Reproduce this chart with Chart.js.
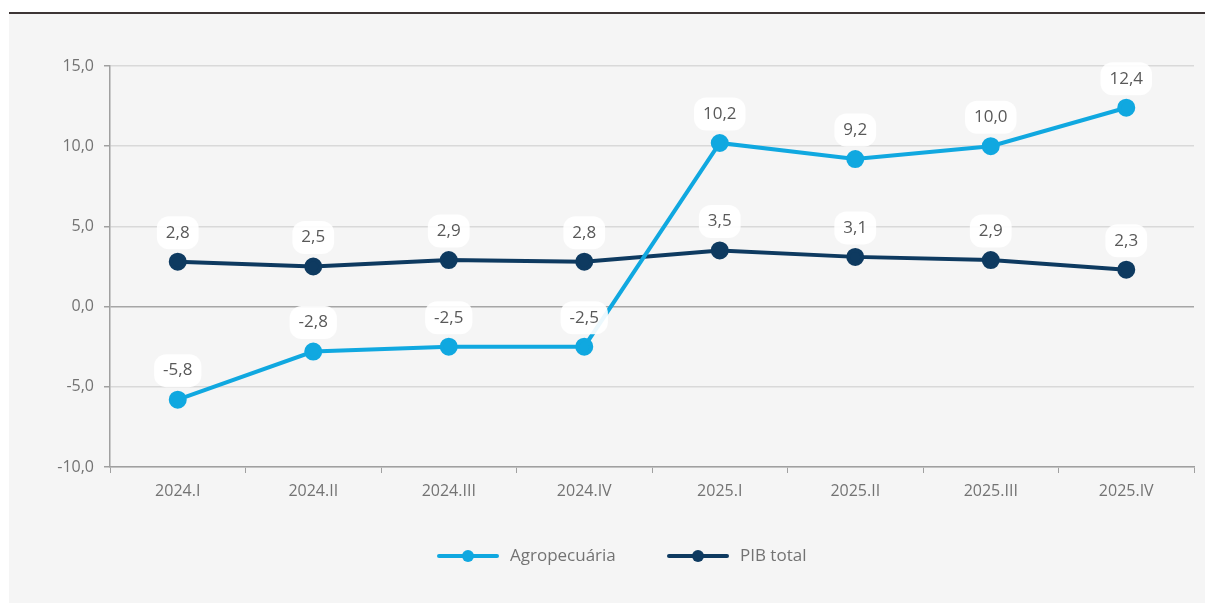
<!DOCTYPE html>
<html>
<head>
<meta charset="utf-8">
<script src="https://cdn.jsdelivr.net/npm/chart.js@4.4.1/dist/chart.umd.min.js"></script>
<style>
  html, body { margin: 0; padding: 0; background: #fff; }
  #wrap { width: 1205px; height: 603px; position: relative; }
</style>
</head>
<body>
<div id="wrap"><canvas id="pibChart" width="1205" height="603"></canvas></div>
<script>
// dados
const quarters = ['2024.I', '2024.II', '2024.III', '2024.IV', '2025.I', '2025.II', '2025.III', '2025.IV'];
const agro = [-5.8, -2.8, -2.5, -2.5, 10.2, 9.2, 10.0, 12.4];
const pibTotal = [2.8, 2.5, 2.9, 2.8, 3.5, 3.1, 2.9, 2.3];
const yTicks = [-10, -5, 0, 5, 10, 15];

const FONT = "'Open Sans', 'Liberation Sans', sans-serif";
const TXT = '#595959';
const AXIS_TXT = '#737373';

const fmt = v => v.toFixed(1).replace('.', ',');

// fundo cinza com a linha escura no topo
const panelBg = {
  id: 'panelBg',
  beforeDraw(chart) {
    const ctx = chart.ctx;
    ctx.save();
    ctx.fillStyle = '#ffffff';
    ctx.fillRect(0, 0, chart.width, chart.height);
    ctx.fillStyle = '#f5f5f5';
    ctx.fillRect(9, 14, chart.width - 9, chart.height - 14);
    ctx.strokeStyle = '#3d3535';
    ctx.lineWidth = 2;
    ctx.beginPath();
    ctx.moveTo(9, 13);
    ctx.lineTo(chart.width, 13);
    ctx.stroke();
    ctx.restore();
  }
};

// rótulos de dados com caixa branca
const valueLabels = {
  id: 'valueLabels',
  afterDatasetsDraw(chart) {
    const ctx = chart.ctx;
    ctx.save();
    ctx.font = '17px ' + FONT;
    ctx.textAlign = 'center';
    ctx.textBaseline = 'middle';
    chart.data.datasets.forEach((ds, i) => {
      const meta = chart.getDatasetMeta(i);
      meta.data.forEach((pt, j) => {
        const txt = fmt(ds.data[j]);
        const w = ctx.measureText(txt).width + 18;
        const h = 33;
        const cx = pt.x, cy = pt.y - 29;
        ctx.fillStyle = 'rgba(255,255,255,0.92)';
        ctx.beginPath();
        ctx.roundRect(cx - w / 2, cy - h / 2, w, h, 12);
        ctx.fill();
        ctx.fillStyle = TXT;
        ctx.fillText(txt, cx, cy);
      });
    });
    ctx.restore();
  }
};

// legenda com linha e marcador
const lineLegend = {
  id: 'lineLegend',
  afterDraw(chart) {
    const ctx = chart.ctx;
    const y = 556;
    const xs = [439, 669];
    ctx.save();
    ctx.font = '17px ' + FONT;
    ctx.textBaseline = 'middle';
    chart.data.datasets.forEach((ds, i) => {
      const x = xs[i];
      ctx.strokeStyle = ds.borderColor;
      ctx.lineWidth = 4;
      ctx.lineCap = 'round';
      ctx.beginPath();
      ctx.moveTo(x, y);
      ctx.lineTo(x + 58, y);
      ctx.stroke();
      ctx.fillStyle = ds.borderColor;
      ctx.beginPath();
      ctx.arc(x + 29, y, 6, 0, Math.PI * 2);
      ctx.fill();
      ctx.fillStyle = AXIS_TXT;
      ctx.fillText(ds.label, x + 71, y);
    });
    ctx.restore();
  }
};

new Chart(document.getElementById('pibChart').getContext('2d'), {
  type: 'line',
  data: {
    labels: quarters,
    datasets: [
      {
        label: 'Agropecuária',
        data: agro,
        borderColor: '#10a8e0',
        backgroundColor: '#10a8e0',
        borderWidth: 4,
        pointRadius: 7,
        pointHoverRadius: 7,
        tension: 0
      },
      {
        label: 'PIB total',
        data: pibTotal,
        borderColor: '#0e3a60',
        backgroundColor: '#0e3a60',
        borderWidth: 4,
        pointRadius: 7,
        pointHoverRadius: 7,
        tension: 0
      }
    ]
  },
  options: {
    responsive: false,
    animation: false,
    layout: { padding: { left: 10, top: 66, right: -5, bottom: 106 } },
    plugins: {
      legend: { display: false },
      tooltip: { enabled: false }
    },
    scales: {
      x: {
        offset: true,
        afterFit: s => { s.height = 30; },
        grid: {
          offset: true,
          drawOnChartArea: false,
          color: '#a0a0a0',
          tickColor: '#a0a0a0',
          tickLength: 6
        },
        border: { color: '#a0a0a0', width: 1.5 },
        ticks: { color: AXIS_TXT, font: { family: FONT, size: 16 }, padding: 9, maxRotation: 0 }
      },
      y: {
        min: -10,
        max: 15,
        afterFit: s => { s.width = 100; },
        afterBuildTicks: s => { s.ticks = yTicks.map(v => ({ value: v })); },
        grid: {
          color: c => c.tick && c.tick.value === 0 ? '#a6a6a6' : '#d9d9d9',
          lineWidth: 1.5,
          tickColor: '#a0a0a0',
          tickLength: 6
        },
        border: { color: '#a0a0a0', width: 1.5 },
        ticks: {
          color: AXIS_TXT,
          font: { family: FONT, size: 16 },
          padding: 10,
          callback: v => fmt(v)
        }
      }
    }
  },
  plugins: [panelBg, valueLabels, lineLegend]
});
</script>
</body>
</html>
